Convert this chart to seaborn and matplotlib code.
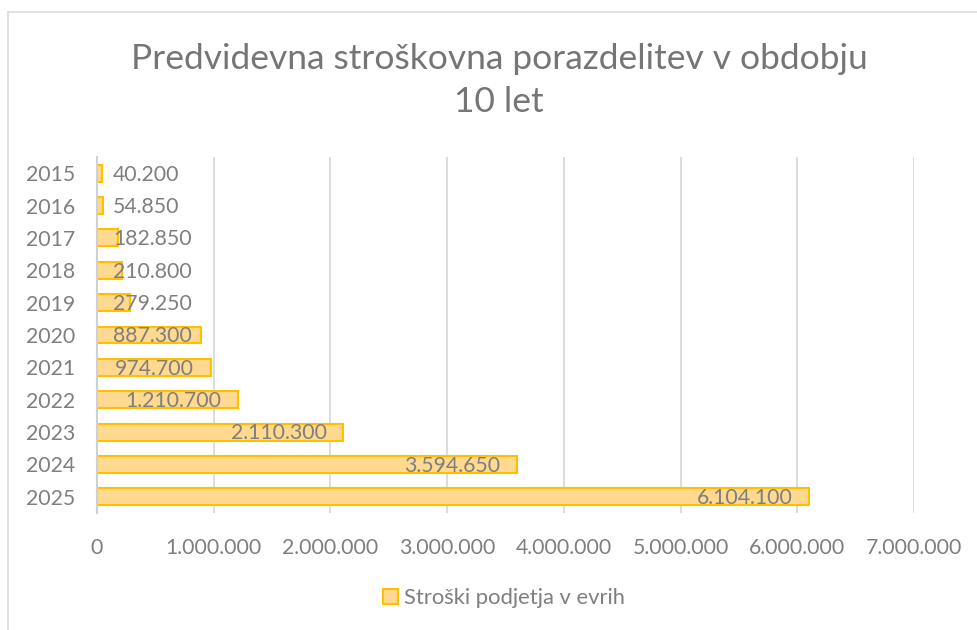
import seaborn as sns
import matplotlib.pyplot as plt
import pandas as pd
from matplotlib.patches import Patch
from matplotlib.lines import Line2D

# data
years = ["2015", "2016", "2017", "2018", "2019", "2020",
         "2021", "2022", "2023", "2024", "2025"]
costs = [40200, 54850, 182850, 210800, 279250, 887300,
         974700, 1210700, 2110300, 3594650, 6104100]
x_ticks = [0, 1000000, 2000000, 3000000, 4000000, 5000000, 6000000, 7000000]
series_name = "Stroški podjetja v evrih"
title = "Predvidevna stroškovna porazdelitev v obdobju\n10 let"

# dotted thousands, like the Slovenian Excel output
def fmt(v):
    return f"{v:,.0f}".replace(",", ".")

sns.set_theme(style="white")
plt.rcParams["font.family"] = ["Lato", "DejaVu Sans"]

grey = "#7f7f7f"
fill = "#ffd98f"
edge = "#ffc000"

df = pd.DataFrame({"year": years, "cost": costs})

fig = plt.figure(figsize=(9.77, 6.30), dpi=100)
ax = fig.add_axes([97 / 977, 1 - 513 / 630, (914 - 97) / 977, 356 / 630])

sns.barplot(data=df, x="cost", y="year", orient="h", color=fill,
            saturation=1, width=0.52, edgecolor=edge, linewidth=1.5, ax=ax)

ax.set_xlim(0, 7000000)
ax.set_xticks(x_ticks)
ax.set_xticklabels([fmt(t) for t in x_ticks])
ax.set_xlabel("")
ax.set_ylabel("")
ax.grid(axis="x", color="#d9d9d9", linewidth=1.3)
ax.set_axisbelow(True)
for s in ["top", "right", "bottom"]:
    ax.spines[s].set_visible(False)
ax.spines["left"].set_color("#d0d0d0")
ax.spines["left"].set_linewidth(1.5)
ax.tick_params(axis="both", length=0, colors=grey, labelsize=15.3)
ax.tick_params(axis="x", pad=18)
ax.tick_params(axis="y", pad=16)

# data labels: inside end, pushed right when the bar is too short
fig.canvas.draw()
r = fig.canvas.get_renderer()
x0 = ax.transData.transform((0, 0))[0]
for i, v in enumerate(costs):
    t = ax.annotate(fmt(v), (v, i), xytext=(-12, -1), textcoords="offset points",
                    ha="right", va="center", color=grey, fontsize=15.3)
    bb = t.get_window_extent(r)
    if bb.x0 < x0 + 16:
        t.remove()
        ax.annotate(fmt(v), (0, i), xytext=(11.5, -1), textcoords="offset points",
                    ha="left", va="center", color=grey, fontsize=15.3)

fig.text(499 / 977, 1 - 80.5 / 630, title, ha="center", va="center",
         fontsize=25.5, color="#757575", linespacing=1.42)

handle = Patch(facecolor=fill, edgecolor=edge, linewidth=1.5)
fig.legend([handle], [series_name], loc="center", bbox_to_anchor=(504 / 977, 1 - 598 / 630),
           frameon=False, fontsize=15.8, labelcolor=grey, handlelength=0.7, handleheight=0.7,
           handletextpad=0.25)

# chart border
fig.add_artist(Line2D([8 / 977, 1], [1 - 12 / 630, 1 - 12 / 630], color="#d9d9d9", lw=1.2))
fig.add_artist(Line2D([8 / 977, 8 / 977], [0, 1 - 12 / 630], color="#d9d9d9", lw=1.2))

fig.savefig("out.png", dpi=100, facecolor="white")
